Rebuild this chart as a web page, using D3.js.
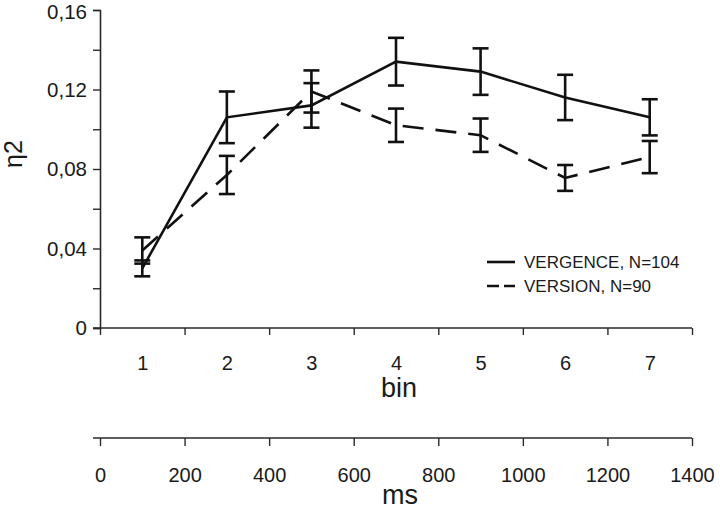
<!DOCTYPE html>
<html>
<head>
<meta charset="utf-8">
<script src="https://cdn.jsdelivr.net/npm/d3@7"></script>
<style>
  html, body { margin: 0; padding: 0; background: #fff; }
  svg { display: block; font-family: "Liberation Sans", Arial, sans-serif; }
</style>
</head>
<body>
<svg id="chart" width="720" height="510"></svg>
<script>
// ---- data ----
const bins = [1, 2, 3, 4, 5, 6, 7];
const vergence    = [0.030, 0.106, 0.112, 0.134, 0.129, 0.116, 0.106];
const vergenceErr = [0.004, 0.013, 0.0112, 0.012, 0.0117, 0.0114, 0.0091];
const version     = [0.039, 0.077, 0.119, 0.102, 0.097, 0.0755, 0.086];
const versionErr  = [0.0066, 0.0096, 0.0106, 0.0084, 0.0084, 0.0065, 0.0081];
const yTicks = [0, 0.02, 0.04, 0.06, 0.08, 0.10, 0.12, 0.14, 0.16];
const yLabelTicks = [0, 0.04, 0.08, 0.12, 0.16];
const msTicks = [0, 200, 400, 600, 800, 1000, 1200, 1400];
const legendLabels = ["VERGENCE, N=104", "VERSION, N=90"];

// ---- layout ----
const svg = d3.select("#chart");
const mLeft = 100, mRight = 692, mTop = 10, mBottom = 328;
const msAxisY = 438;
const ink = "#111";
const axisInk = "#2a2a2a";

const x = d3.scaleLinear().domain([0.5, 7.5]).range([mLeft, mRight]);
const xMs = d3.scaleLinear().domain([0, 1400]).range([mLeft, mRight]);
const y = d3.scaleLinear().domain([0, 0.16]).range([mBottom, mTop]);

function styleAxis(g) {
  g.selectAll(".domain").attr("stroke", axisInk).attr("stroke-width", 1.6);
  g.selectAll(".tick line").attr("stroke", axisInk).attr("stroke-width", 1.4);
  g.selectAll(".tick text").attr("fill", "#1a1a1a").attr("font-family", "Liberation Sans, Arial, sans-serif");
}

// y axis
const yAxis = svg.append("g").attr("transform", `translate(${mLeft},0)`)
  .call(d3.axisLeft(y).tickValues(yTicks).tickSizeOuter(0).tickSize(7).tickPadding(6)
    .tickFormat(d => yLabelTicks.some(v => Math.abs(v - d) < 1e-9) ? (d === 0 ? "0" : d3.format(".2f")(d).replace(".", ",")) : ""));
styleAxis(yAxis);
yAxis.selectAll(".tick text").attr("font-size", 20.5);
// keep the top label inside the frame
yAxis.selectAll(".tick").filter(d => Math.abs(d - 0.16) < 1e-9).select("text").attr("dy", "0.42em");

// bin axis (ticks at bin boundaries)
const boundaries = d3.range(0.5, 8, 1);
const xAxis = svg.append("g").attr("transform", `translate(0,${mBottom})`)
  .call(d3.axisBottom(x).tickValues(boundaries).tickSizeOuter(0).tickSize(7).tickFormat(""));
styleAxis(xAxis);
xAxis.select(".domain").attr("d", `M${mLeft - 7},0H${mRight}`);

// bin labels
const xLab = svg.append("g").attr("transform", `translate(0,${mBottom})`)
  .call(d3.axisBottom(x).tickValues(bins).tickSize(0).tickPadding(28).tickFormat(d3.format("d")));
xLab.select(".domain").remove();
xLab.selectAll(".tick text").attr("font-size", 20).attr("fill", "#1a1a1a").attr("font-family", "Liberation Sans, Arial, sans-serif");

svg.append("text").attr("x", (mLeft + mRight) / 2 + 3).attr("y", 397)
  .attr("text-anchor", "middle").attr("font-size", 27).attr("fill", "#1a1a1a").text("bin");

// ms axis
const msAxis = svg.append("g").attr("transform", `translate(0,${msAxisY})`)
  .call(d3.axisBottom(xMs).tickValues(msTicks).tickSizeOuter(0).tickSize(8).tickPadding(22).tickFormat(d3.format("d")));
styleAxis(msAxis);
msAxis.select(".domain").attr("d", `M${mLeft - 7},0H${mRight}`);
msAxis.selectAll(".tick text").attr("font-size", 20);

svg.append("text").attr("x", (mLeft + mRight) / 2 + 4).attr("y", 504)
  .attr("text-anchor", "middle").attr("font-size", 27).attr("fill", "#1a1a1a").text("ms");

// y label
svg.append("text").attr("transform", `translate(22,154) rotate(-90)`)
  .attr("text-anchor", "middle").attr("font-size", 25).attr("fill", "#1a1a1a").text("η2");

// ---- series ----
const series = [
  { vals: vergence, errs: vergenceErr, dash: null },
  { vals: version, errs: versionErr, dash: "21,12" }
];

const line = d3.line().x((d, i) => x(bins[i])).y(d => y(d));
const capW = 8;

series.forEach(s => {
  svg.append("path").datum(s.vals)
    .attr("d", line).attr("fill", "none").attr("stroke", ink).attr("stroke-width", 2.6)
    .attr("stroke-dasharray", s.dash);
  const g = svg.append("g").attr("stroke", ink).attr("stroke-width", 2.6);
  s.vals.forEach((v, i) => {
    const cx = x(bins[i]);
    const y1 = y(v + s.errs[i]), y2 = y(v - s.errs[i]);
    g.append("line").attr("x1", cx).attr("x2", cx).attr("y1", y1).attr("y2", y2);
    g.append("line").attr("x1", cx - capW).attr("x2", cx + capW).attr("y1", y1).attr("y2", y1);
    g.append("line").attr("x1", cx - capW).attr("x2", cx + capW).attr("y1", y2).attr("y2", y2);
  });
});

// ---- legend ----
const legend = svg.append("g");
const legDash = [null, "12,5"];
legendLabels.forEach((lab, i) => {
  const ly = 262 + i * 24;
  legend.append("line").attr("x1", 487).attr("x2", 515).attr("y1", ly).attr("y2", ly)
    .attr("stroke", ink).attr("stroke-width", 2.6).attr("stroke-dasharray", legDash[i]);
  legend.append("text").attr("x", 524).attr("y", ly + 6).attr("font-size", 17)
    .attr("fill", "#1a1a1a").text(lab);
});
</script>
</body>
</html>
